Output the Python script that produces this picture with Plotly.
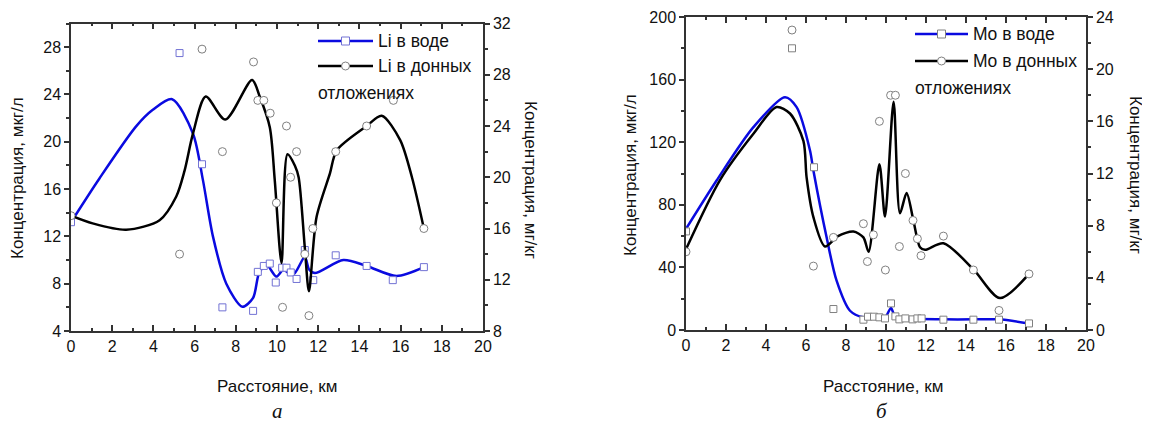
"""Li and Mo concentration along the river: water vs bottom sediments."""

import plotly.graph_objects as go

W, H = 1150, 423
OFF = 8  # the page body adds an 8px margin around the figure

# ---- panel a: Li ----
li_water_x = [0, 5.27, 6.36, 7.35, 8.84, 9.07, 9.36, 9.65, 9.94, 10.25, 10.46, 10.67, 10.95,
              11.35, 11.76, 12.85, 14.35, 15.62, 17.13]
li_water = [13.2, 27.5, 18.1, 6.0, 5.7, 9.0, 9.5, 9.7, 8.1, 9.35, 9.35, 8.95, 8.4,
            10.85, 8.3, 10.4, 9.5, 8.3, 9.4]
li_sed_x = [0, 5.27, 6.36, 7.35, 8.86, 9.07, 9.36, 9.67, 9.97, 10.27, 10.46, 10.66, 10.95,
            11.35, 11.55, 11.74, 12.85, 14.35, 15.65, 17.13]
li_sed = [17.0, 14.0, 30.0, 22.0, 29.0, 26.0, 26.0, 25.0, 18.0, 9.85, 24.0, 20.0, 22.0,
          14.0, 9.2, 16.0, 22.0, 24.0, 26.0, 16.0]

# smoothed curves as drawn in the source figure
li_water_curve_x = [0, 1.38, 3.16, 3.97, 4.91, 5.92, 6.4, 6.89, 7.54, 8.32, 8.84, 9.13, 9.49,
                    9.97, 10.3, 10.78, 11.35, 11.56, 11.84, 13.22, 14.35, 15.8, 17.13]
li_water_curve = [13.2, 16.9, 21.3, 22.7, 23.6, 20.7, 16.8, 12.0, 8.0, 6.05, 6.8, 8.9, 9.6,
                  8.6, 9.15, 8.75, 10.25, 9.2, 8.9, 10.0, 9.5, 8.65, 9.4]
li_sed_curve_x = [0, 1.05, 2.68, 4.3, 5.11, 5.51, 5.92, 6.54, 7.49, 8.79, 9.16, 9.65, 9.89,
                  10.22, 10.51, 10.87, 11.05, 11.35, 11.55, 11.92, 12.57, 12.9, 14.35, 15.08,
                  15.98, 16.55, 17.13]
li_sed_curve = [17.0, 16.4, 15.9, 16.65, 18.5, 20.5, 23.4, 26.3, 24.5, 27.6, 26.3, 23.9, 19.8,
                13.3, 21.8, 20.9, 20.0, 14.5, 11.1, 16.9, 20.3, 22.1, 24.0, 24.8,
                22.9, 20.0, 16.0]

# ---- panel b: Mo ----
mo_water_x = [0, 5.3, 6.4, 7.37, 8.87, 9.1, 9.4, 9.67, 9.95, 10.25, 10.47, 10.67, 10.97,
              11.33, 11.57, 11.78, 12.87, 14.37, 15.65, 17.15]
mo_water = [63, 180, 104, 13.4, 6.6, 8.5, 8.5, 8.1, 7.4, 17.0, 8.7, 6.8, 7.4,
            6.8, 7.4, 7.4, 6.6, 6.6, 6.6, 4.2]
mo_sed_x = [0, 5.3, 6.37, 7.37, 8.87, 9.07, 9.37, 9.67, 9.97, 10.23, 10.47, 10.67, 10.97,
            11.35, 11.57, 11.75, 12.87, 14.37, 15.65, 17.15]
mo_sed = [6.0, 23.0, 4.9, 7.1, 8.15, 5.25, 7.3, 16.0, 4.6, 18.0, 18.0, 6.4, 12.0,
          8.4, 7.0, 5.7, 7.2, 4.6, 1.5, 4.3]

mo_water_curve_x = [0, 1.53, 3.37, 4.95, 5.53, 6.2, 6.37, 7.03, 7.53, 8.2, 8.87, 9.5, 9.95,
                    10.25, 10.47, 11.0, 12.87, 14.37, 15.65, 17.15]
mo_water_curve = [64.6, 95.5, 129.6, 148.8, 142.4, 114.7, 101.9, 59.2, 31.5, 12.3, 8.1, 8.3, 8.0,
                  14.1, 8.0, 7.3, 6.8, 6.8, 6.8, 4.2]
mo_sed_curve_x = [0, 1.7, 3.37, 4.53, 5.2, 5.87, 6.03, 6.37, 6.95, 7.6, 8.37, 8.87, 9.13,
                  9.67, 9.95, 10.38, 10.7, 11.03, 11.37, 11.7, 11.95, 12.87, 14.37, 15.7, 17.15]
mo_sed_curve = [6.2, 11.5, 15.05, 17.1, 16.6, 14.5, 11.7, 8.65, 6.4, 7.2, 7.55, 7.1, 6.0,
                12.7, 8.7, 17.5, 8.95, 10.5, 8.4, 6.35, 6.15, 6.65, 4.65, 2.45, 4.3]

BLUE = "#0a0ae0"
BLACK = "#000000"
SQ_A = "#7272d4"
GREY = "#808080"
FONT = "Arial, Liberation Sans, sans-serif"
AXC = "#333333"


def px(x):
    return (x - OFF) / W


def py(y):
    return 1 - (y - OFF) / H


fig = go.Figure()

panels = [
    ("x", "y", "y2", li_water_x, li_water, li_sed_x, li_sed, li_water_curve_x, li_water_curve,
     li_sed_curve_x, li_sed_curve, SQ_A),
    ("x2", "y3", "y4", mo_water_x, mo_water, mo_sed_x, mo_sed, mo_water_curve_x, mo_water_curve,
     mo_sed_curve_x, mo_sed_curve, GREY),
]
for xa, ya, yb, wx, wv, sx, sv, wcx, wcv, scx, scv, sqc in panels:
    fig.add_trace(go.Scatter(x=wcx, y=wcv, xaxis=xa, yaxis=ya, mode="lines",
                             line=dict(color=BLUE, width=2.5, shape="spline", smoothing=0.8),
                             showlegend=False, hoverinfo="skip"))
    fig.add_trace(go.Scatter(x=scx, y=scv, xaxis=xa, yaxis=yb, mode="lines",
                             line=dict(color=BLACK, width=2.5, shape="spline", smoothing=0.8),
                             showlegend=False, hoverinfo="skip"))
    fig.add_trace(go.Scatter(x=wx, y=wv, xaxis=xa, yaxis=ya, mode="markers",
                             marker=dict(symbol="square", size=7, color="white",
                                         line=dict(color=sqc, width=1)),
                             showlegend=False))
    fig.add_trace(go.Scatter(x=sx, y=sv, xaxis=xa, yaxis=yb, mode="markers",
                             marker=dict(symbol="circle", size=8, color="white",
                                         line=dict(color=GREY, width=1)),
                             showlegend=False))

common = dict(showline=True, linecolor=AXC, linewidth=1.5, showgrid=False, zeroline=False,
              tickfont=dict(family=FONT, size=16, color="#111"), tickwidth=1.5,
              tickcolor=AXC, automargin=False)
xcommon = dict(common, range=[0, 20], dtick=2, tick0=0, ticks="inside", ticklen=6,
               mirror="ticks",
               minor=dict(dtick=1, ticks="inside", ticklen=3, tickcolor=AXC, tickwidth=1.5))


def ycommon(lo, hi, step, minor_step, side="left"):
    return dict(common, range=[lo, hi], dtick=step, tick0=lo, ticks="outside", ticklen=5,
                side=side,
                minor=dict(dtick=minor_step, ticks="outside", ticklen=3, tickcolor=AXC,
                           tickwidth=1.5))


ya_dom = [py(331), py(23.5)]
yb_dom = [py(330), py(17)]
fig.update_layout(
    width=W, height=H, margin=dict(l=0, r=0, t=0, b=0, pad=0, autoexpand=False),
    paper_bgcolor="white", plot_bgcolor="white", showlegend=False,
    xaxis=dict(xcommon, domain=[px(71), px(483)], anchor="y"),
    yaxis=dict(ycommon(4, 30, 4, 2), domain=ya_dom, anchor="x"),
    yaxis2=dict(ycommon(8, 32, 4, 2, "right"), overlaying="y", anchor="x"),
    xaxis2=dict(xcommon, domain=[px(686), px(1086)], anchor="y3"),
    yaxis3=dict(ycommon(0, 200, 40, 20), domain=yb_dom, anchor="x2"),
    yaxis4=dict(ycommon(0, 24, 4, 2, "right"), overlaying="y3", anchor="x2"),
)

ann = []


def text(x, y, s, size=17, angle=0, xanchor="center", family=FONT, italic=False):
    if italic:
        s = f"<i>{s}</i>"
    ann.append(dict(x=px(x), y=py(y), xref="paper", yref="paper", text=s, showarrow=False,
                    textangle=angle, xanchor=xanchor, yanchor="middle",
                    font=dict(family=family, size=size, color="#111")))


# axis titles
text(17, 178, "Концентрация, мкг/л", angle=-90)
text(530, 180, "Концентрация, мг/кг", angle=90)
text(630, 175, "Концентрация, мкг/л", angle=-90)
text(1136, 175, "Концентрация, мг/кг", angle=90)
text(277, 386, "Расстояние, км")
text(883, 386, "Расстояние, км")
text(277, 411, "а", size=21, family="Liberation Serif, Times New Roman, serif", italic=True)
text(882, 411, "б", size=21, family="Liberation Serif, Times New Roman, serif", italic=True)

# legends
shapes = []


def legend_entry(x0, x1, y, color, symbol, mcolor, label):
    shapes.append(dict(type="line", xref="paper", yref="paper", x0=px(x0), x1=px(x1),
                       y0=py(y), y1=py(y), line=dict(color=color, width=2.5)))
    shapes.append(dict(type="rect" if symbol == "square" else "circle", xref="paper",
                       yref="paper", xsizemode="pixel", ysizemode="pixel",
                       xanchor=px((x0 + x1) / 2), yanchor=py(y), x0=-4, x1=4, y0=-4, y1=4,
                       fillcolor="white", line=dict(color=mcolor, width=1)))
    text(x1 + 3, y, label, size=17.5, xanchor="left")


legend_entry(318, 373, 41, BLUE, "square", SQ_A, "Li в воде")
legend_entry(318, 373, 66, BLACK, "circle", GREY, "Li в донных")
text(316, 93, "отложениях", size=17.5, xanchor="left")
legend_entry(915, 968, 34, BLUE, "square", GREY, "Mo в воде")
legend_entry(915, 968, 61, BLACK, "circle", GREY, "Mo в донных")
text(913, 88, "отложениях", size=17.5, xanchor="left")

fig.update_layout(annotations=ann, shapes=shapes)
fig.write_html("out.html")
